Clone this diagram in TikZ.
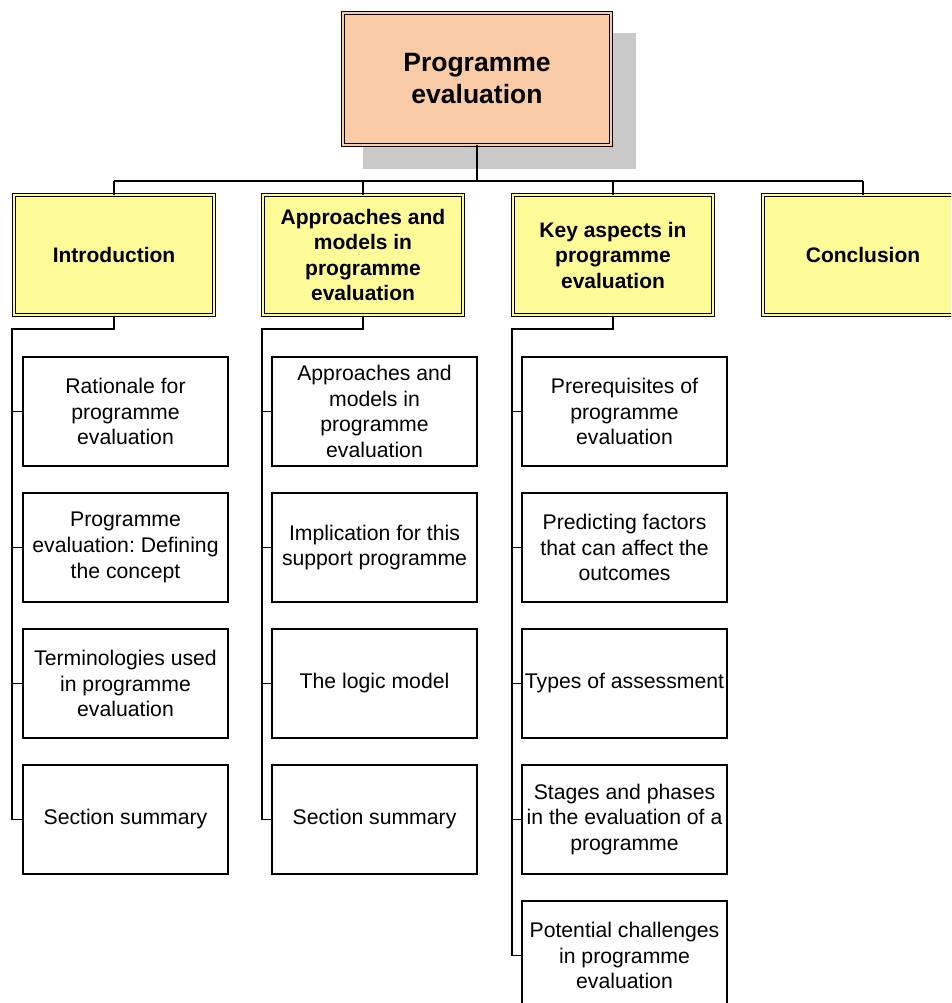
\documentclass[tikz,border=0pt]{standalone}
\usepackage{fontspec}
\setmainfont{Liberation Sans}
\frenchspacing
\definecolor{peach}{HTML}{F9CBA6}
\definecolor{lemon}{HTML}{FDFA98}
\definecolor{shadowgray}{HTML}{C9C9C9}
\tikzset{
  link/.style={draw=black, line width=1.1pt},
  topbox/.style={draw=black, line width=1pt, double=peach, double distance=2.6pt, fill=peach,
    minimum width=268pt, minimum height=132pt, align=center, font=\fontsize{26.5}{32}\selectfont\bfseries},
  headbox/.style={draw=black, line width=1pt, double=lemon, double distance=2.6pt, fill=lemon,
    minimum width=200pt, minimum height=120pt, align=center, inner sep=0pt,
    font=\fontsize{21}{25.5}\selectfont\bfseries},
  itembox/.style={draw=black, line width=1.1pt, fill=white, minimum width=205pt, minimum height=109pt,
    align=center, inner sep=0pt, font=\fontsize{21.2}{25.8}\selectfont}
}
\begin{document}
\begin{tikzpicture}[x=1pt,y=1pt]
\useasboundingbox (0,0) rectangle (951,-1003);
\begin{scope}
\clip (0,0) rectangle (951,-1003);
% drop shadow behind the title
\fill[shadowgray] (363,-33) rectangle (636,-169);
\node[topbox] (top) at (477,-79) {Programme\\evaluation};

% second level
\node[headbox] (intro) at (114,-255) {Introduction};
\node[headbox] (appr) at (363,-255) {Approaches and\\models in\\programme\\evaluation};
\node[headbox] (key) at (613,-255) {Key aspects in\\programme\\evaluation};
\node[headbox] (concl) at (863,-255) {Conclusion};

% bus from the title to the second level
\coordinate (busL) at (114,-181);
\coordinate (busR) at (863,-181);
\draw[link] (top.south) -- (top.south |- busL);
\draw[link] (busL) -- (busR);
\foreach \n in {intro,appr,key,concl} \draw[link] (\n.north |- busL) -- (\n.north);

% Introduction column
\node[itembox] (i1) at (125.5,-411.5) {Rationale for\\programme\\evaluation};
\node[itembox] (i2) at (125.5,-547.5) {Programme\\evaluation: Defining\\the concept};
\node[itembox] (i3) at (125.5,-683.5) {Terminologies used\\in programme\\evaluation};
\node[itembox] (i4) at (125.5,-819.5) {Section summary};

% Approaches column
\node[itembox] (a1) at (374.5,-411.5) {Approaches and\\models in\\programme\\evaluation};
\node[itembox] (a2) at (374.5,-547.5) {Implication for this\\support programme};
\node[itembox] (a3) at (374.5,-683.5) {The logic model};
\node[itembox] (a4) at (374.5,-819.5) {Section summary};

% Key aspects column
\node[itembox] (k1) at (624.5,-411.5) {Prerequisites of\\programme\\evaluation};
\node[itembox] (k2) at (624.5,-547.5) {Predicting factors\\that can affect the\\outcomes};
\node[itembox] (k3) at (624.5,-683.5) {Types of assessment};
\node[itembox] (k4) at (624.5,-819.5) {Stages and phases\\in the evaluation of a\\programme};
\node[itembox] (k5) at (624.5,-955.5) {Potential challenges\\in programme\\evaluation};

% spines down the left of each column
\coordinate (si) at (12,-329);
\coordinate (sa) at (262,-329);
\coordinate (sk) at (512,-329);
\draw[link] (intro.south) |- (si) -- (si |- i4.west) -- (i4.west);
\foreach \c in {i1,i2,i3} \draw[link] (si |- \c.west) -- (\c.west);
\draw[link] (appr.south) |- (sa) -- (sa |- a4.west) -- (a4.west);
\foreach \c in {a1,a2,a3} \draw[link] (sa |- \c.west) -- (\c.west);
\draw[link] (key.south) |- (sk) -- (sk |- k5.west) -- (k5.west);
\foreach \c in {k1,k2,k3,k4} \draw[link] (sk |- \c.west) -- (\c.west);
\end{scope}
\end{tikzpicture}
\end{document}
